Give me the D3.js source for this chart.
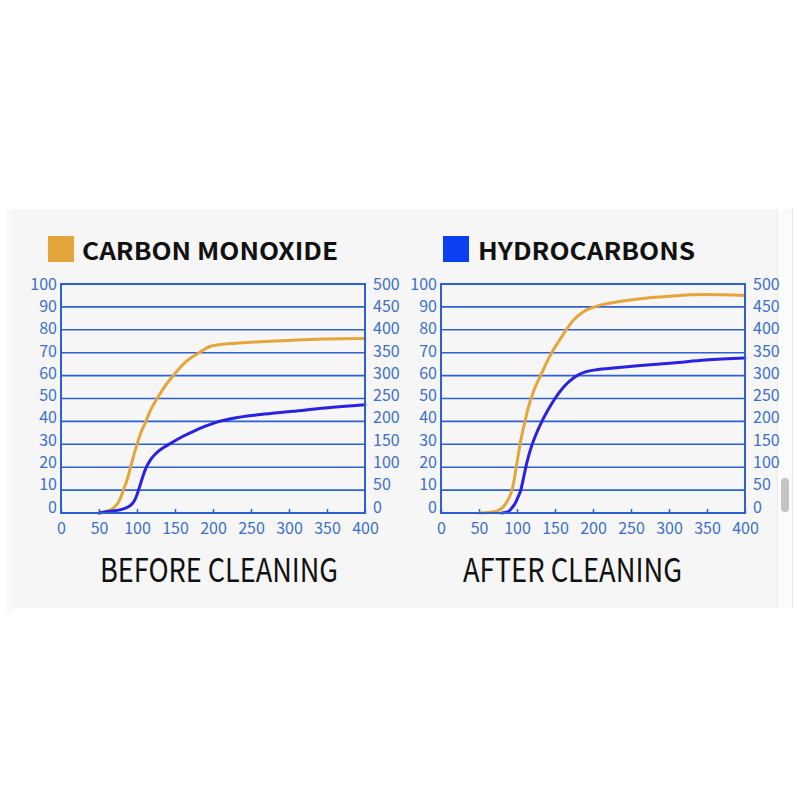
<!DOCTYPE html>
<html><head><meta charset="utf-8">
<script src="https://cdn.jsdelivr.net/npm/d3@7"></script>
<style>html,body{margin:0;padding:0;background:#fff;}svg{display:block;}</style>
</head><body>
<svg id="c" width="800" height="800"></svg>
<script>
// ---------- data ----------
const xTicks = [0, 50, 100, 150, 200, 250, 300, 350, 400];
const yLeftTicks = [0, 10, 20, 30, 40, 50, 60, 70, 80, 90, 100];
const yRightTicks = [0, 50, 100, 150, 200, 250, 300, 350, 400, 450, 500];
const seriesNames = ["CARBON MONOXIDE", "HYDROCARBONS"];
const panelTitles = ["BEFORE CLEANING", "AFTER CLEANING"];

const beforeCO = [[50,0],[60,0.8],[70,2.5],[77,5.5],[82,10],[87,14.5],[91.6,20],[96,25.5],[100.1,30],[105,35],[111.6,40],[118,45],[126.5,50],[136,55],[147.7,60],[164,66],[181.8,70],[195,72.6],[210,73.6],[230,74.1],[262.5,74.8],[305,75.4],[348,76],[400,76.2]];
const beforeHC = [[50,0],[65,0.8],[80,1.6],[90,3],[96,5],[100,8],[104,12],[108,16.3],[112,19.8],[118,23.3],[125,26],[135,28.6],[145,30.6],[160,33.4],[175,35.8],[190,37.9],[205,39.7],[225,41.3],[262.5,43],[305,44.4],[348,45.9],[400,47.3]];
const afterCO = [[50,0],[65,0.3],[75,1],[84,3.5],[90,7],[93.4,10],[96.5,15],[99,20],[101.5,25],[104,30],[107,35],[110.5,40],[114,45],[118.5,50],[124,55],[131,60],[138,65],[145.6,70],[155,75],[164.8,80],[175,84.5],[186,87.6],[200,89.8],[220,91.5],[262.5,93.6],[305,94.8],[348,95.4],[400,95]];
const afterHC = [[80,0],[88,0.5],[94,2.5],[98,4.5],[101,6.7],[105,10],[109,16],[113,22],[118,28],[124,33.5],[132,39.5],[140,44.5],[150,50],[160,54.5],[170,57.8],[180,60.2],[190,61.6],[205,62.6],[220,63.1],[262.5,64.4],[305,65.5],[348,66.8],[400,67.7]];

const colors = {co: "#e4a63a", hc: "#2a22e0", legendHC: "#0a3ff2", grid: "#2e60d2", tick: "#3d70c8", text: "#111"};

// ---------- drawing ----------
const svg = d3.select("#c");
const font = "'Noto Sans CJK SC', 'Noto Sans', sans-serif";

// background panel
svg.append("rect").attr("x", 6).attr("y", 209).attr("width", 8).attr("height", 404).attr("fill", "#f9f9f9");
svg.append("rect").attr("x", 12).attr("y", 209).attr("width", 765).attr("height", 399).attr("fill", "#f6f6f6");
// scrollbar
svg.append("rect").attr("x", 777).attr("y", 209).attr("width", 15).attr("height", 399).attr("fill", "#fbfbfb");
svg.append("line").attr("x1", 777.5).attr("x2", 777.5).attr("y1", 209).attr("y2", 608).attr("stroke", "#ececec");
svg.append("line").attr("x1", 792.5).attr("x2", 792.5).attr("y1", 209).attr("y2", 608).attr("stroke", "#e6e6e6");
svg.append("rect").attr("x", 781).attr("y", 478).attr("width", 8).attr("height", 34).attr("rx", 4).attr("fill", "#c4c4c4");

const panels = [
  {dx: 0, co: beforeCO, hc: beforeHC, title: panelTitles[0], titleX: 100, titleW: 238,
   legendColor: colors.co, legendText: seriesNames[0], legendX: 48, legendTextX: 82, legendW: 256},
  {dx: 380, co: afterCO, hc: afterHC, title: panelTitles[1], titleX: 463, titleW: 219,
   legendColor: colors.legendHC, legendText: seriesNames[1], legendX: 443, legendTextX: 478, legendW: 217}
];

panels.forEach(p => {
  const g = svg.append("g").attr("transform", `translate(${p.dx},0)`);
  const x = d3.scaleLinear().domain([0, 400]).range([61, 365]);
  const yL = d3.scaleLinear().domain([0, 100]).range([513, 284]);
  // tick labels sit on a slightly tighter scale in the reference
  const yLab = d3.scaleLinear().domain([0, 100]).range([507, 284]);
  const yRLab = d3.scaleLinear().domain([0, 500]).range([507, 284]);

  // legend (absolute coordinates)
  svg.append("rect").attr("x", p.legendX).attr("y", 236).attr("width", 26).attr("height", 26).attr("fill", p.legendColor);
  svg.append("text").attr("x", p.legendTextX).attr("y", 259.5)
    .attr("font-family", font).attr("font-weight", 700).attr("font-size", 24)
    .attr("fill", colors.text).attr("textLength", p.legendW).attr("lengthAdjust", "spacingAndGlyphs")
    .text(p.legendText);

  // gridlines
  g.append("g").selectAll("line").data(yLeftTicks.slice(1, -1)).join("line")
    .attr("x1", x(0)).attr("x2", x(400))
    .attr("y1", d => yL(d)).attr("y2", d => yL(d))
    .attr("stroke", colors.grid).attr("stroke-width", 1.6);

  // bottom axis ticks & labels
  const ax = g.append("g").attr("transform", `translate(0,${yL(0)})`)
    .call(d3.axisBottom(x).tickValues(xTicks).tickSizeInner(-4).tickSizeOuter(0).tickPadding(10));
  ax.select(".domain").remove();
  ax.selectAll("line").attr("stroke", colors.grid).attr("stroke-width", 1.5);
  ax.selectAll("text").attr("fill", colors.tick).attr("font-size", 16).attr("font-family", font);

  // left axis labels
  const al = g.append("g").attr("transform", `translate(${x(0) - 4},0)`)
    .call(d3.axisLeft(yLab).tickValues(yLeftTicks).tickSize(0).tickPadding(0));
  al.select(".domain").remove();
  al.selectAll("text").attr("fill", colors.tick).attr("font-size", 16).attr("font-family", font);

  // right axis labels
  const ar = g.append("g").attr("transform", `translate(${x(400) + 8},0)`)
    .call(d3.axisRight(yRLab).tickValues(yRightTicks).tickSize(0).tickPadding(0));
  ar.select(".domain").remove();
  ar.selectAll("text").attr("fill", colors.tick).attr("font-size", 16).attr("font-family", font);

  // lines
  const line = d3.line().x(d => x(d[0])).y(d => yL(d[1])).curve(d3.curveMonotoneX);
  g.append("path").datum(p.co).attr("d", line).attr("fill", "none")
    .attr("stroke", colors.co).attr("stroke-width", 3).attr("stroke-linecap", "round");
  g.append("path").datum(p.hc).attr("d", line).attr("fill", "none")
    .attr("stroke", colors.hc).attr("stroke-width", 3).attr("stroke-linecap", "round");

  // frame
  g.append("rect").attr("x", x(0)).attr("y", yL(100)).attr("width", x(400) - x(0)).attr("height", yL(0) - yL(100))
    .attr("fill", "none").attr("stroke", colors.grid).attr("stroke-width", 2);

  // panel title
  svg.append("text").attr("x", p.titleX).attr("y", 582)
    .attr("font-family", font).attr("font-size", 33).attr("fill", colors.text)
    .attr("textLength", p.titleW).attr("lengthAdjust", "spacingAndGlyphs")
    .text(p.title);
});
</script>
</body></html>
